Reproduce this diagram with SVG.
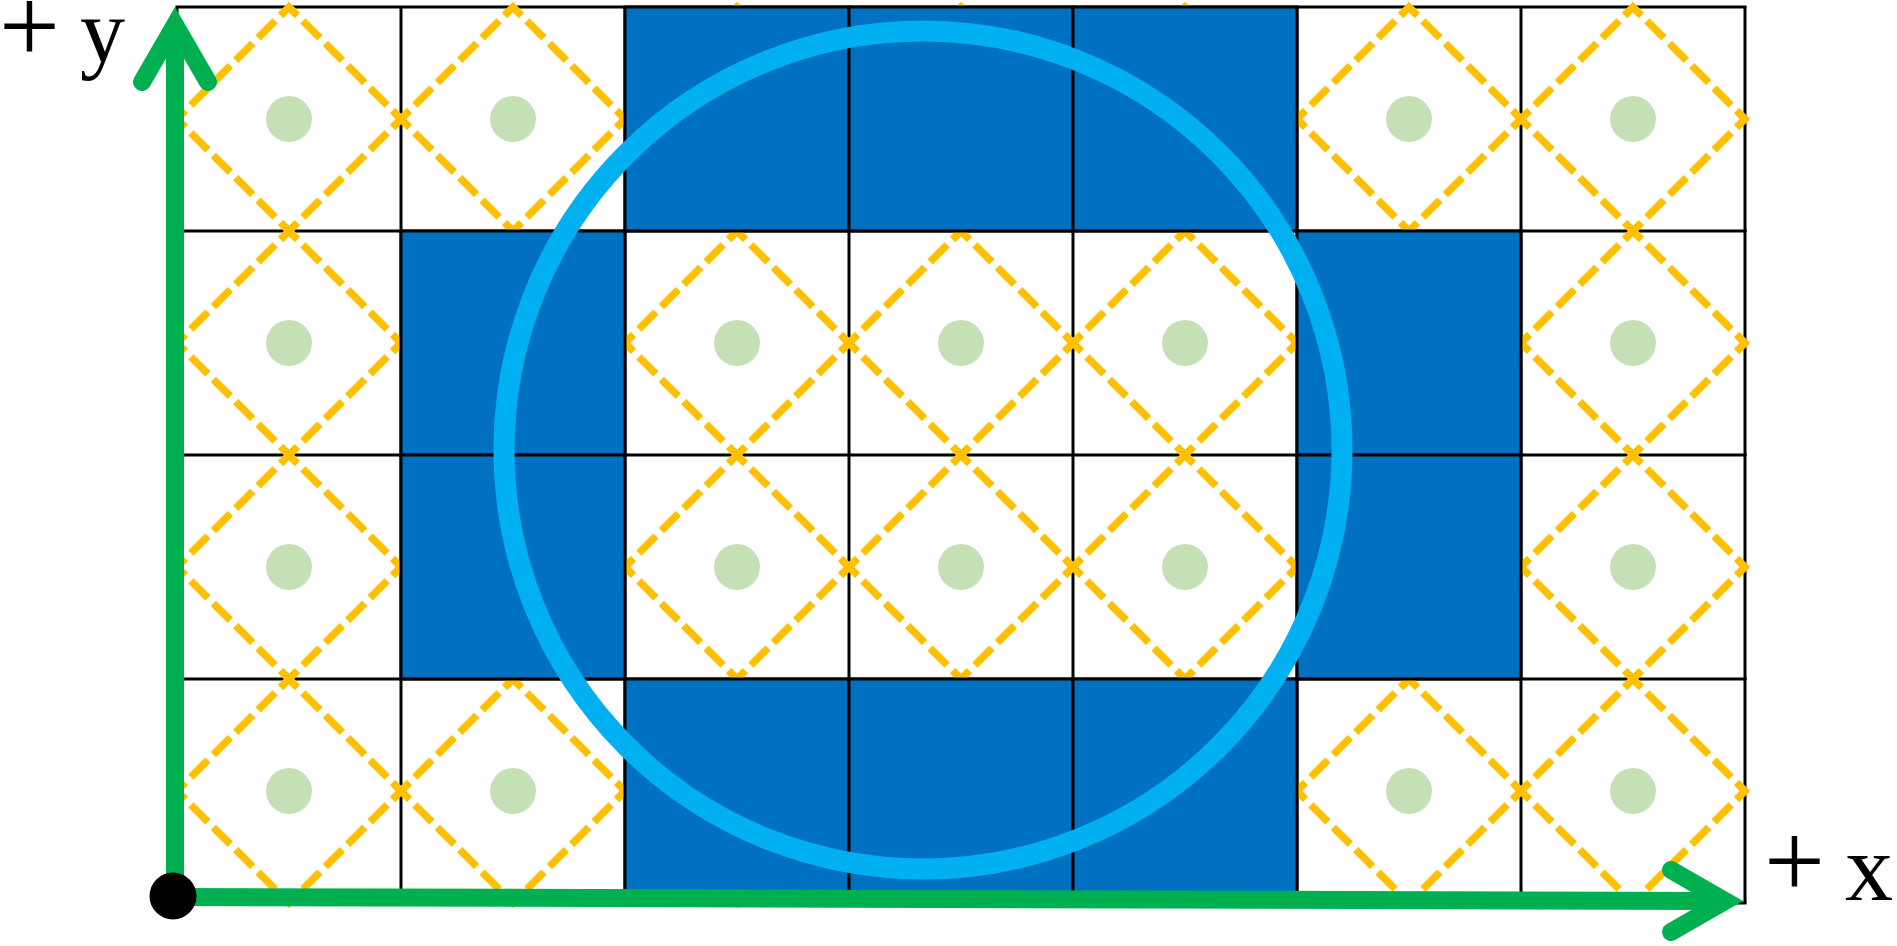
<svg xmlns="http://www.w3.org/2000/svg" width="1897" height="946" viewBox="0 0 1897 946">
<style>
.grid line{stroke:#000;stroke-width:3}
.dm{fill:none;stroke:#FFC000;stroke-width:7.5;stroke-dasharray:24 7.68;stroke-dashoffset:12}
.dot{fill:#C5E0B4}
.blue{fill:#0070C0;stroke:#000;stroke-width:3}
.ax{fill:none;stroke:#00B050;stroke-width:18}
.head{fill:none;stroke:#00B050;stroke-width:18;stroke-linecap:round;stroke-linejoin:miter}
.lbl{font-family:"Liberation Serif","Times New Roman",serif;fill:#000}
</style>
<defs>
<path id="dmd" d="M-112,0 L0,-112 L112,0 L0,112 Z"/>
</defs>
<rect width="1897" height="946" fill="#fff"/>
<g id="grid" class="grid">
<line x1="177" y1="7" x2="177" y2="903"/><line x1="401" y1="7" x2="401" y2="903"/><line x1="625" y1="7" x2="625" y2="903"/><line x1="849" y1="7" x2="849" y2="903"/><line x1="1073" y1="7" x2="1073" y2="903"/><line x1="1297" y1="7" x2="1297" y2="903"/><line x1="1521" y1="7" x2="1521" y2="903"/><line x1="1745" y1="7" x2="1745" y2="903"/>
<line x1="175.5" y1="7" x2="1746.5" y2="7"/><line x1="175.5" y1="231" x2="1746.5" y2="231"/><line x1="175.5" y1="455" x2="1746.5" y2="455"/><line x1="175.5" y1="679" x2="1746.5" y2="679"/><line x1="175.5" y1="903" x2="1746.5" y2="903"/>
</g>
<g id="diamonds">
<use href="#dmd" class="dm" x="289" y="119"/><use href="#dmd" class="dm" x="513" y="119"/><use href="#dmd" class="dm" x="737" y="119"/><use href="#dmd" class="dm" x="961" y="119"/><use href="#dmd" class="dm" x="1185" y="119"/><use href="#dmd" class="dm" x="1409" y="119"/><use href="#dmd" class="dm" x="1633" y="119"/>
<use href="#dmd" class="dm" x="289" y="343"/><use href="#dmd" class="dm" x="513" y="343"/><use href="#dmd" class="dm" x="737" y="343"/><use href="#dmd" class="dm" x="961" y="343"/><use href="#dmd" class="dm" x="1185" y="343"/><use href="#dmd" class="dm" x="1409" y="343"/><use href="#dmd" class="dm" x="1633" y="343"/>
<use href="#dmd" class="dm" x="289" y="567"/><use href="#dmd" class="dm" x="513" y="567"/><use href="#dmd" class="dm" x="737" y="567"/><use href="#dmd" class="dm" x="961" y="567"/><use href="#dmd" class="dm" x="1185" y="567"/><use href="#dmd" class="dm" x="1409" y="567"/><use href="#dmd" class="dm" x="1633" y="567"/>
<use href="#dmd" class="dm" x="289" y="791"/><use href="#dmd" class="dm" x="513" y="791"/><use href="#dmd" class="dm" x="737" y="791"/><use href="#dmd" class="dm" x="961" y="791"/><use href="#dmd" class="dm" x="1185" y="791"/><use href="#dmd" class="dm" x="1409" y="791"/><use href="#dmd" class="dm" x="1633" y="791"/>
</g>
<g id="blue-cells">
<rect class="blue" x="625" y="7" width="224" height="224"/><rect class="blue" x="849" y="7" width="224" height="224"/><rect class="blue" x="1073" y="7" width="224" height="224"/>
<rect class="blue" x="401" y="231" width="224" height="224"/><rect class="blue" x="1297" y="231" width="224" height="224"/>
<rect class="blue" x="401" y="455" width="224" height="224"/><rect class="blue" x="1297" y="455" width="224" height="224"/>
<rect class="blue" x="625" y="679" width="224" height="224"/><rect class="blue" x="849" y="679" width="224" height="224"/><rect class="blue" x="1073" y="679" width="224" height="224"/>
</g>
<g id="dots" class="dot">
<circle cx="289" cy="119" r="23"/><circle cx="513" cy="119" r="23"/><circle cx="1409" cy="119" r="23"/><circle cx="1633" cy="119" r="23"/>
<circle cx="289" cy="343" r="23"/><circle cx="737" cy="343" r="23"/><circle cx="961" cy="343" r="23"/><circle cx="1185" cy="343" r="23"/><circle cx="1633" cy="343" r="23"/>
<circle cx="289" cy="567" r="23"/><circle cx="737" cy="567" r="23"/><circle cx="961" cy="567" r="23"/><circle cx="1185" cy="567" r="23"/><circle cx="1633" cy="567" r="23"/>
<circle cx="289" cy="791" r="23"/><circle cx="513" cy="791" r="23"/><circle cx="1409" cy="791" r="23"/><circle cx="1633" cy="791" r="23"/>
</g>
<g id="ring">
<circle cx="923" cy="450" r="419" fill="none" stroke="#00B0F0" stroke-width="21"/>
</g>
<g id="axes">
<line class="ax" x1="174" y1="897" x2="1725" y2="901"/>
<line class="ax" x1="175" y1="897" x2="175" y2="25"/>
<polyline class="head" points="142,82 175,25 208,82"/>
<polyline class="head" points="1671,870 1725,901 1671,932"/>
</g>
<g id="origin">
<circle cx="173" cy="896" r="23.5" fill="#000"/>
</g>
<g id="label-y">
<text class="lbl" y="62"><tspan x="-1" font-size="108">+</tspan><tspan x="80" font-size="90">y</tspan></text>
</g>
<g id="label-x">
<text class="lbl" y="900"><tspan x="1764" font-size="108" dy="-3">+</tspan><tspan x="1845" font-size="96" dy="3">x</tspan></text>
</g>
</svg>
